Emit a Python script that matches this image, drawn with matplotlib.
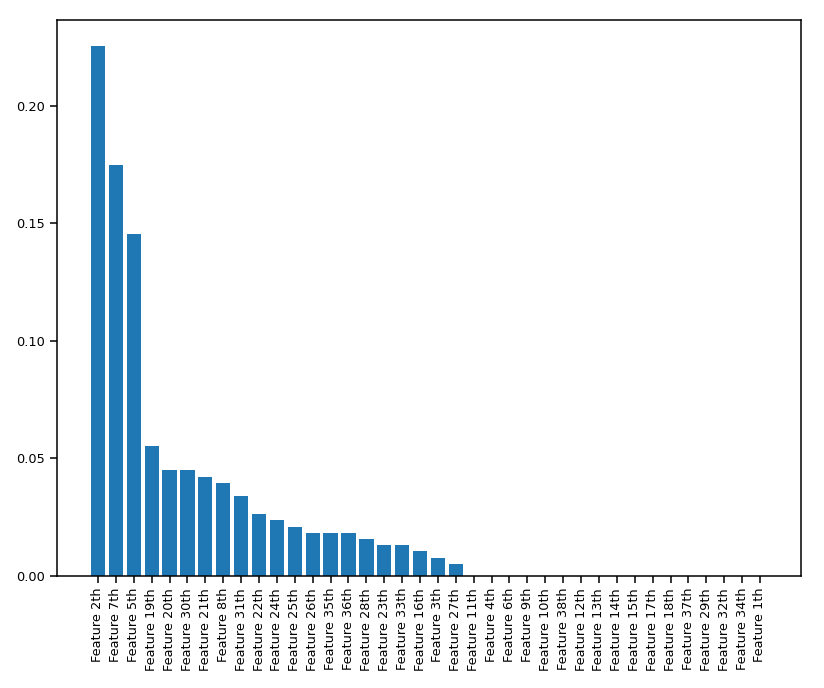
import matplotlib
matplotlib.use('Agg')
import matplotlib.pyplot as plt

features = ['2th', '7th', '5th', '19th', '20th', '30th', '21th', '8th', '31th', '22th',
            '24th', '25th', '26th', '35th', '36th', '28th', '23th', '33th', '16th', '3th',
            '27th', '11th', '4th', '6th', '9th', '10th', '38th', '12th', '13th', '14th',
            '15th', '17th', '18th', '37th', '29th', '32th', '34th', '1th']
importances = [0.2252, 0.1748, 0.1454, 0.0554, 0.0452, 0.0452, 0.0422, 0.0397, 0.0341, 0.0264,
               0.0239, 0.0209, 0.0183, 0.0183, 0.0183, 0.0158, 0.0132, 0.0132, 0.0107, 0.0077,
               0.0051, 0, 0, 0, 0, 0, 0, 0, 0, 0,
               0, 0, 0, 0, 0, 0, 0, 0]
labels = ['Feature ' + f for f in features]

fig = plt.figure(figsize=(8.24, 6.88), dpi=100)
ax = fig.add_axes([0.0692, 0.1628, 0.9028, 0.8081])
ax.bar(range(len(labels)), importances, color='#1f77b4')
ax.set_xticks(range(len(labels)))
ax.set_xticklabels(labels, rotation=90, fontsize=9.3)
ax.tick_params(axis='y', labelsize=9.3)
ax.tick_params(length=5, width=1.1)
ax.set_yticks([0.0, 0.05, 0.10, 0.15, 0.20])
for s in ax.spines.values():
    s.set_linewidth(1.1)

plt.savefig('out.png', dpi=100)
